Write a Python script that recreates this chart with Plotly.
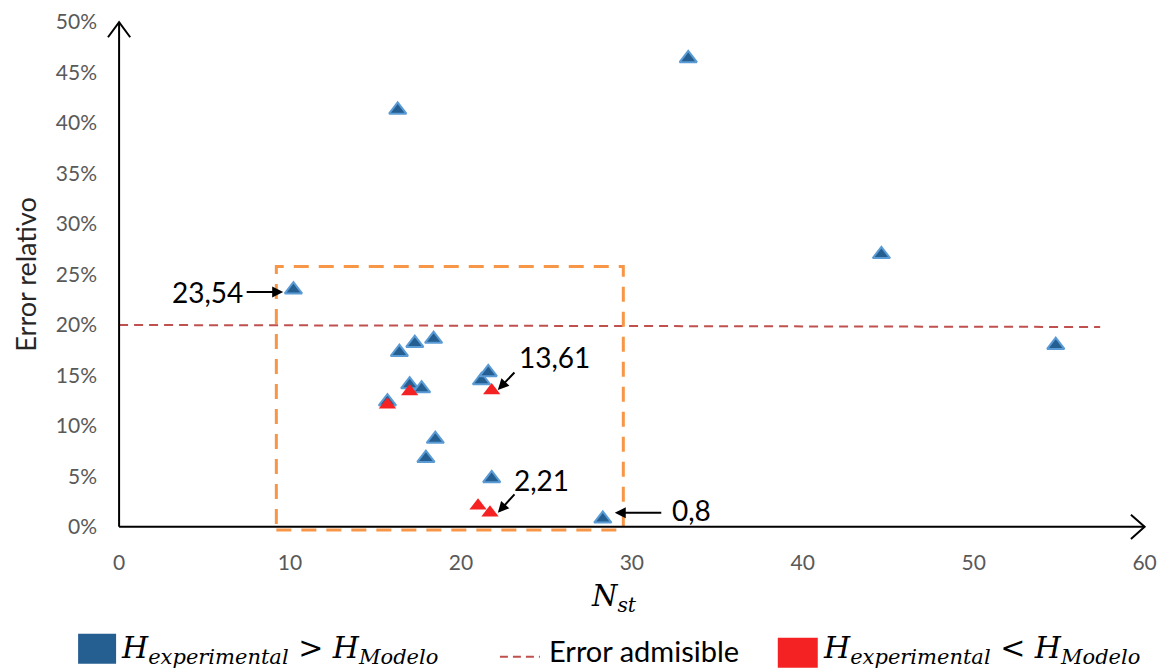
import plotly.graph_objects as go

# datos
nst_mayor = [10.2, 16.3, 33.3, 44.6, 54.8, 16.4, 17.3, 18.4, 17.0, 17.7, 15.7, 18.5, 17.95, 21.2, 21.6, 21.8, 28.3]
err_mayor = [0.235, 0.413, 0.464, 0.270, 0.180, 0.173, 0.182, 0.186, 0.141, 0.137, 0.124, 0.087, 0.068, 0.145, 0.153, 0.048, 0.008]

nst_menor = [17.0, 15.7, 21.8, 21.0, 21.7]
err_menor = [0.134, 0.121, 0.135, 0.021, 0.014]

adm_x = [0, 57.4]
adm_y = [0.200, 0.198]

x_ticks = [0, 10, 20, 30, 40, 50, 60]
y_ticks = [0, 0.05, 0.10, 0.15, 0.20, 0.25, 0.30, 0.35, 0.40, 0.45, 0.50]

etiquetas = ["23,54", "13,61", "2,21", "0,8"]

W, H = 1164, 669
X0, XS = 119, 17.1      # pixel of x=0, px per unit
Y0, YS = 527, 1010      # pixel of y=0, px per unit
xr = [-1, 60.9]
yr = [-0.014, 0.515]
ml = X0 + xr[0] * XS
mr = W - (X0 + xr[1] * XS)
mt = Y0 - yr[1] * YS
mb = H - (Y0 - yr[0] * YS)


def px(x):
    return (x - ml) / (W - ml - mr)


def py(y):
    return ((H - mb) - y) / ((H - mb) - mt)


FONT = "Lato, 'Open Sans', sans-serif"
SERIF = "'DejaVu Serif', serif"

fig = go.Figure()

fig.add_scatter(x=adm_x, y=adm_y, mode="lines", line=dict(color="#C0504D", width=2, dash="9px,6px"),
                showlegend=False, hoverinfo="skip")
fig.add_scatter(x=nst_mayor, y=err_mayor, mode="markers", showlegend=False,
                marker=dict(symbol="triangle-up", size=15, color="#255E91", line=dict(color="#5B9BD5", width=2)))
fig.add_scatter(x=nst_menor, y=err_menor, mode="markers", showlegend=False,
                marker=dict(symbol="triangle-up", size=15, color="#F42222", line=dict(color="#F42222", width=0)))

# caja naranja y ejes con flechas
shapes = [
    dict(type="rect", xref="x", yref="y", x0=9.2, x1=29.5, y0=-0.003, y1=0.258,
         line=dict(color="#F79646", width=3, dash="15px,10px")),
    dict(type="line", xref="x", yref="y", x0=0, x1=60, y0=0, y1=0, line=dict(color="black", width=2)),
    dict(type="line", xref="x", yref="y", x0=0, x1=0, y0=0, y1=0.5, line=dict(color="black", width=2)),
    dict(type="path", xref="x", yref="y", path="M 59.2,0.012 L 60,0 L 59.2,-0.012",
         line=dict(color="black", width=2)),
    dict(type="path", xref="x", yref="y", path="M -0.65,0.485 L 0,0.5 L 0.65,0.485",
         line=dict(color="black", width=2)),
    # leyenda
    dict(type="rect", xref="paper", yref="paper", x0=px(78), x1=px(116), y0=py(664), y1=py(634),
         fillcolor="#255E91", line=dict(width=0)),
    dict(type="line", xref="paper", yref="paper", x0=px(500), x1=px(540), y0=py(657), y1=py(657),
         line=dict(color="#C0504D", width=2, dash="8px,5px")),
    dict(type="rect", xref="paper", yref="paper", x0=px(778), x1=px(818), y0=py(668), y1=py(638),
         fillcolor="#F42222", line=dict(width=0)),
]

annotations = [
    dict(xref="paper", yref="y", x=px(25), y=0.25, text="Error relativo", textangle=-90, showarrow=False,
         xanchor="center", yanchor="middle", font=dict(family=FONT, size=27, color="#262626")),
    dict(xref="paper", yref="paper", x=px(614), y=py(598), text="<i>N</i><sub><i>st</i></sub>", showarrow=False,
         xanchor="center", yanchor="middle", font=dict(family=SERIF, size=29, color="black")),
    # leyenda texto
    dict(xref="paper", yref="paper", x=px(119), y=py(650), xanchor="left", yanchor="middle",
         text="<i>H</i><sub><i>experimental</i></sub> > <i>H</i><sub><i>Modelo</i></sub>", showarrow=False,
         font=dict(family=SERIF, size=30, color="black")),
    dict(xref="paper", yref="paper", x=px(547), y=py(651), xanchor="left", yanchor="middle",
         text="Error admisible", showarrow=False, font=dict(family=FONT, size=29, color="black")),
    dict(xref="paper", yref="paper", x=px(821), y=py(650), xanchor="left", yanchor="middle",
         text="<i>H</i><sub><i>experimental</i></sub> < <i>H</i><sub><i>Modelo</i></sub>", showarrow=False,
         font=dict(family=SERIF, size=30, color="black")),
]

# flechas de los valores señalados
flechas = [
    (9.6, 0.2327, -38, 0),
    (22.16, 0.1356, 18, -19),
    (22.16, 0.0139, 18, -20),
    (29.0, 0.0139, 48, 0),
]
for x, y, ax, ay in flechas:
    annotations.append(dict(xref="x", yref="y", x=x, y=y, ax=ax, ay=ay, text="", showarrow=True,
                            arrowhead=2, arrowsize=1.1, arrowwidth=2, arrowcolor="black"))

pos_texto = [(5.15, 0.233), (25.5, 0.168), (24.7, 0.0465), (33.5, 0.017)]
for t, (x, y) in zip(etiquetas, pos_texto):
    annotations.append(dict(xref="x", yref="y", x=x, y=y, text=t, showarrow=False,
                            xanchor="center", yanchor="middle",
                            font=dict(family=FONT, size=28, color="black")))

fig.update_layout(
    width=W, height=H,
    margin=dict(l=ml, r=mr, t=mt, b=mb, pad=0),
    paper_bgcolor="white", plot_bgcolor="white",
    shapes=shapes, annotations=annotations,
    xaxis=dict(range=xr, tickvals=x_ticks, showgrid=False, zeroline=False, showline=False, ticks="",
               tickfont=dict(family=FONT, size=21, color="#595959"), ticklabelstandoff=7),
    yaxis=dict(range=yr, tickvals=y_ticks, tickformat=".0%", showgrid=False, zeroline=False, showline=False,
               ticks="", tickfont=dict(family=FONT, size=21, color="#595959"), ticklabelstandoff=4),
    showlegend=False,
)

# sin margen del body para que los pixeles coincidan
fig.write_html("out.html", config={"displayModeBar": False},
               post_script="document.body.style.margin='0';")
